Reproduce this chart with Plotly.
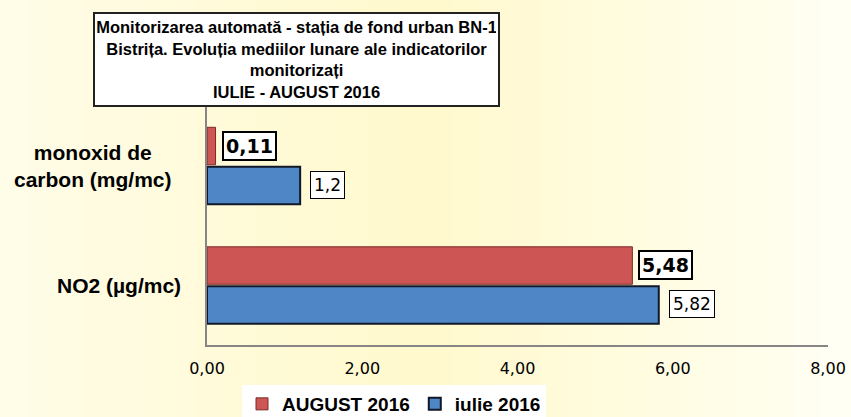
import plotly.graph_objects as go

categories = ["NO2 (µg/mc)", "monoxid de carbon (mg/mc)"]
cat_labels = ["NO2 (µg/mc)", "monoxid de<br>carbon (mg/mc)"]
iulie_2016 = [5.82, 1.2]
august_2016 = [5.48, 0.11]
iulie_labels = ["5,82", "1,2"]
august_labels = ["5,48", "0,11"]
x_ticks = [0, 2, 4, 6, 8]
x_tick_text = ["0,00", "2,00", "4,00", "6,00", "8,00"]
title_text = ("Monitorizarea automată - stația de fond urban BN-1<br>"
              "Bistrița. Evoluția mediilor lunare ale indicatorilor<br>"
              "monitorizați<br>IULIE - AUGUST 2016")

W, H = 851, 417
L, R, T, B = 207, 23, 106, 72
PW, PH = W - L - R, H - T - B


def px(x):
    return (x - L) / PW


def py(y):
    return (H - B - y) / PH


fig = go.Figure()
fig.add_trace(go.Bar(
    y=categories, x=iulie_2016, orientation="h", name="iulie 2016",
    marker=dict(color="#4F86C6", line=dict(color="#111827", width=2)),
    hoverinfo="x+y",
))
fig.add_trace(go.Bar(
    y=categories, x=august_2016, orientation="h", name="AUGUST 2016",
    marker=dict(color="#CD5654", line=dict(color="#7A2A28", width=1)),
    hoverinfo="x+y",
))

# background gradient stripes (styling only)
shapes = []
n = 30
left_c, mid_c, right_c = (255, 252, 232), (255, 249, 204), (255, 255, 244)
for i in range(n):
    t = (i + 0.5) / n
    if t < 0.5:
        a, b, f = left_c, mid_c, t / 0.5
    else:
        a, b, f = mid_c, right_c, (t - 0.5) / 0.5
    c = tuple(int(round(a[k] + (b[k] - a[k]) * f)) for k in range(3))
    shapes.append(dict(
        type="rect", xref="paper", yref="paper", layer="below",
        x0=px(W * i / n) - 0.001, x1=px(W * (i + 1) / n) + 0.001,
        y0=py(H), y1=py(0), line=dict(width=0),
        fillcolor="rgb(%d,%d,%d)" % c,
    ))

annotations = []
annotations.append(dict(
    xref="paper", yref="paper", x=px(296.5), y=py(59.5),
    xanchor="center", yanchor="middle", text="<b>" + title_text + "</b>",
    showarrow=False, font=dict(family="Liberation Sans, Arial", size=16.5, color="black"),
    bgcolor="white", bordercolor="#222222", borderwidth=2, borderpad=2,
    width=399, height=87, align="center",
))
annotations.append(dict(
    xref="paper", yref="y", x=px(93), y=categories[1], xanchor="center",
    yanchor="middle", text="<b>" + cat_labels[1] + "</b>", showarrow=False, align="center",
    font=dict(family="Liberation Sans, Arial", size=21, color="black"),
))
annotations.append(dict(
    xref="paper", yref="y", x=px(183), y=categories[0], xanchor="right",
    yanchor="middle", text="<b>" + cat_labels[0] + "</b>", showarrow=False, align="right",
    font=dict(family="Liberation Sans, Arial", size=21, color="black"),
))
for c, v, t in zip(categories, august_2016, august_labels):
    annotations.append(dict(
        x=v, y=c, xanchor="left", yanchor="middle", xshift=6, yshift=20,
        text="<b>" + t + "</b>", showarrow=False,
        font=dict(family="DejaVu Sans, Verdana", size=19, color="black"),
        bgcolor="white", bordercolor="black", borderwidth=2, borderpad=2,
    ))
for c, v, t in zip(categories, iulie_2016, iulie_labels):
    annotations.append(dict(
        x=v, y=c, xanchor="left", yanchor="middle", xshift=10, yshift=-19,
        text=t, showarrow=False,
        font=dict(family="DejaVu Sans, Verdana", size=17, color="black"),
        bgcolor="white", bordercolor="black", borderwidth=1, borderpad=3,
    ))

fig.update_layout(
    width=W, height=H,
    margin=dict(l=L, r=R, t=T, b=B, autoexpand=False),
    barmode="group", bargap=0.34, bargroupgap=0.05,
    paper_bgcolor="#FFFCE2", plot_bgcolor="rgba(0,0,0,0)",
    separators=",.",
    showlegend=True,
    legend=dict(
        orientation="h", traceorder="reversed", x=px(394), xanchor="center",
        y=py(423), yanchor="bottom", bgcolor="white",
        font=dict(family="Liberation Sans, Arial", size=19, color="black", weight="bold"),
        itemwidth=30, tracegroupgap=0,
    ),
    shapes=shapes,
    annotations=annotations,
    xaxis=dict(
        range=[0, 8], tickvals=x_ticks, ticktext=x_tick_text, showgrid=False,
        zeroline=False, showline=True, linecolor="#868686", linewidth=2,
        ticks="", ticklabelstandoff=8, automargin=False,
        tickfont=dict(family="DejaVu Sans, Verdana", size=16, color="black"),
    ),
    yaxis=dict(
        categoryorder="array", categoryarray=categories, showticklabels=False,
        showgrid=False, zeroline=False, showline=True, linecolor="#868686",
        linewidth=2, ticks="", automargin=False,
    ),
)

fig.write_html("out.html", config={"displayModeBar": False},
               post_script="document.body.style.margin='0';document.body.style.overflow='hidden';")
